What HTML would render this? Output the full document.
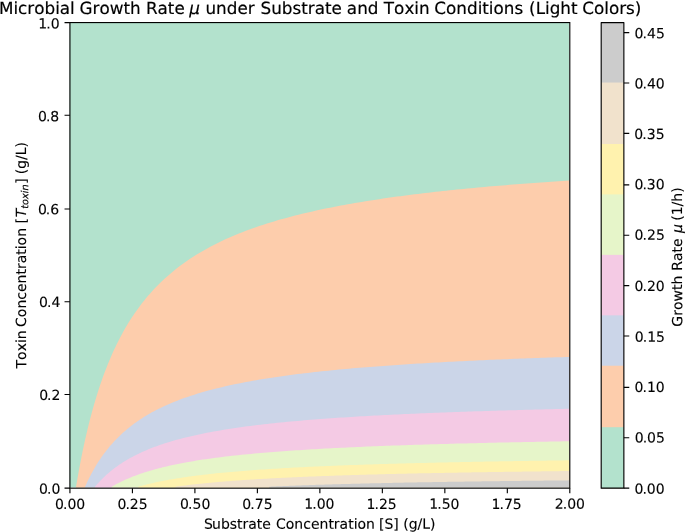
<!DOCTYPE html>
<html><head><meta charset="utf-8"><title>Microbial Growth Rate</title>
<style>html,body{margin:0;padding:0;background:#fff;overflow:hidden}svg{display:block}text{font-family:'DejaVu Sans','Liberation Sans',sans-serif;fill:#000;text-rendering:geometricPrecision}</style></head>
<body>
<svg width="685" height="532" viewBox="0 0 685 532">
<rect width="685" height="532" fill="#fff"/>
<defs><clipPath id="c"><rect x="69.43" y="22.06" width="499.87" height="465.60"/></clipPath></defs>
<g clip-path="url(#c)" shape-rendering="auto">
<rect x="69.43" y="22.06" width="499.87" height="465.60" fill="#b3e2cd"/>
<path d="M76.05 490.67L76.05 486.72L77.32 479.24L78.59 472.09L79.86 465.24L81.13 458.67L82.40 452.36L83.67 446.31L84.94 440.48L86.21 434.88L87.48 429.49L88.75 424.29L90.03 419.28L91.30 414.45L92.57 409.78L93.84 405.28L95.11 400.92L96.38 396.71L97.65 392.63L98.92 388.69L100.19 384.87L101.46 381.16L102.73 377.57L104.01 374.09L105.28 370.71L106.55 367.43L107.82 364.24L109.09 361.14L110.36 358.13L111.63 355.20L112.90 352.36L114.17 349.58L115.44 346.89L116.71 344.26L117.98 341.70L119.26 339.20L120.53 336.77L121.80 334.39L123.07 332.08L124.34 329.82L125.61 327.61L126.88 325.46L128.15 323.36L129.42 321.30L130.69 319.30L131.96 317.34L133.23 315.42L134.51 313.54L135.78 311.71L137.05 309.91L138.32 308.15L139.59 306.43L140.86 304.75L142.13 303.10L143.40 301.48L144.67 299.90L145.94 298.35L147.21 296.83L148.49 295.34L149.76 293.88L151.03 292.45L154.54 288.62L158.05 285.00L161.57 281.55L165.08 278.26L168.59 275.14L172.11 272.15L175.62 269.30L179.13 266.58L182.65 263.97L186.16 261.47L189.67 259.07L193.19 256.78L196.70 254.57L200.21 252.45L203.72 250.41L207.24 248.44L210.75 246.55L214.26 244.72L217.78 242.96L221.29 241.26L224.80 239.62L228.32 238.04L231.83 236.51L235.34 235.02L238.86 233.59L242.37 232.20L245.88 230.85L249.40 229.54L252.91 228.28L256.42 227.05L259.94 225.85L263.45 224.69L266.96 223.57L270.48 222.47L273.99 221.41L277.50 220.37L281.02 219.36L284.53 218.38L288.04 217.43L291.56 216.50L295.07 215.59L298.58 214.70L302.09 213.84L305.61 213.00L309.12 212.18L312.63 211.38L316.15 210.60L319.66 209.83L323.17 209.09L326.69 208.36L330.20 207.64L333.71 206.95L337.23 206.27L340.74 205.60L344.25 204.95L347.77 204.31L351.28 203.68L354.79 203.07L358.31 202.47L361.82 201.89L365.33 201.31L368.85 200.75L372.36 200.20L375.87 199.66L379.39 199.13L382.90 198.61L386.41 198.10L389.93 197.60L393.44 197.10L396.95 196.62L400.46 196.15L403.98 195.68L407.49 195.23L411.00 194.78L414.52 194.34L418.03 193.91L421.54 193.48L425.06 193.07L428.57 192.66L432.08 192.25L435.60 191.86L439.11 191.47L442.62 191.08L446.14 190.71L449.65 190.33L453.16 189.97L456.68 189.61L460.19 189.26L463.70 188.91L467.22 188.57L470.73 188.23L474.24 187.90L477.76 187.57L481.27 187.25L484.78 186.93L488.29 186.62L491.81 186.31L495.32 186.01L498.83 185.71L502.35 185.42L505.86 185.13L509.37 184.84L512.89 184.56L516.40 184.28L519.91 184.01L523.43 183.74L526.94 183.47L530.45 183.21L533.97 182.95L537.48 182.70L540.99 182.45L544.51 182.20L548.02 181.95L551.53 181.71L555.05 181.47L558.56 181.23L562.07 181.00L565.59 180.77L569.10 180.55L572.30 180.55L572.30 490.67Z" fill="#fdcdac"/>
<path d="M85.02 490.67L85.02 486.72L86.29 483.92L87.56 481.23L88.83 478.64L90.10 476.14L91.37 473.73L92.64 471.40L93.91 469.15L95.18 466.98L96.45 464.87L97.72 462.84L98.99 460.87L100.27 458.96L101.54 457.12L102.81 455.32L104.08 453.58L105.35 451.90L106.62 450.26L107.89 448.67L109.16 447.12L110.43 445.62L111.70 444.16L112.97 442.74L114.24 441.35L115.52 440.00L116.79 438.69L118.06 437.41L119.33 436.17L120.60 434.95L121.87 433.77L123.14 432.61L124.41 431.48L125.68 430.38L126.95 429.31L128.22 428.26L129.50 427.23L130.77 426.23L132.04 425.25L133.31 424.29L134.58 423.36L135.85 422.44L137.12 421.54L138.39 420.66L139.66 419.81L140.93 418.96L142.20 418.14L143.47 417.33L144.75 416.54L146.02 415.77L147.29 415.01L148.56 414.27L149.83 413.54L151.10 412.82L152.37 412.12L153.64 411.43L154.91 410.75L156.18 410.09L157.45 409.44L158.72 408.80L160.00 408.17L163.43 406.53L166.87 404.96L170.31 403.47L173.75 402.04L177.18 400.67L180.62 399.37L184.06 398.11L187.50 396.91L190.94 395.76L194.37 394.65L197.81 393.58L201.25 392.56L204.69 391.57L208.13 390.62L211.56 389.70L215.00 388.81L218.44 387.96L221.88 387.13L225.31 386.33L228.75 385.56L232.19 384.81L235.63 384.09L239.07 383.39L242.50 382.71L245.94 382.05L249.38 381.41L252.82 380.79L256.26 380.19L259.69 379.60L263.13 379.04L266.57 378.48L270.01 377.95L273.44 377.42L276.88 376.91L280.32 376.42L283.76 375.94L287.20 375.47L290.63 375.01L294.07 374.56L297.51 374.12L300.95 373.70L304.38 373.28L307.82 372.88L311.26 372.48L314.70 372.10L318.14 371.72L321.57 371.35L325.01 370.99L328.45 370.64L331.89 370.29L335.33 369.95L338.76 369.62L342.20 369.30L345.64 368.98L349.08 368.68L352.51 368.37L355.95 368.07L359.39 367.78L362.83 367.50L366.27 367.22L369.70 366.94L373.14 366.68L376.58 366.41L380.02 366.15L383.46 365.90L386.89 365.65L390.33 365.41L393.77 365.17L397.21 364.93L400.64 364.70L404.08 364.47L407.52 364.25L410.96 364.03L414.40 363.82L417.83 363.60L421.27 363.40L424.71 363.19L428.15 362.99L431.59 362.79L435.02 362.60L438.46 362.41L441.90 362.22L445.34 362.03L448.77 361.85L452.21 361.67L455.65 361.50L459.09 361.32L462.53 361.15L465.96 360.98L469.40 360.82L472.84 360.65L476.28 360.49L479.71 360.33L483.15 360.18L486.59 360.02L490.03 359.87L493.47 359.72L496.90 359.58L500.34 359.43L503.78 359.29L507.22 359.15L510.66 359.01L514.09 358.87L517.53 358.74L520.97 358.60L524.41 358.47L527.84 358.34L531.28 358.21L534.72 358.09L538.16 357.96L541.60 357.84L545.03 357.72L548.47 357.60L551.91 357.48L555.35 357.36L558.79 357.25L562.22 357.13L565.66 357.02L569.10 356.91L572.30 356.91L572.30 490.67Z" fill="#cbd5e8"/>
<path d="M94.98 490.67L94.98 486.72L96.25 485.22L97.52 483.78L98.79 482.38L100.06 481.03L101.34 479.72L102.61 478.45L103.88 477.22L105.15 476.02L106.42 474.86L107.69 473.73L108.96 472.63L110.23 471.57L111.50 470.53L112.77 469.52L114.04 468.54L115.31 467.59L116.59 466.66L117.86 465.75L119.13 464.87L120.40 464.01L121.67 463.17L122.94 462.35L124.21 461.55L125.48 460.77L126.75 460.01L128.02 459.26L129.29 458.53L130.56 457.82L131.84 457.13L133.11 456.45L134.38 455.79L135.65 455.14L136.92 454.50L138.19 453.88L139.46 453.27L140.73 452.68L142.00 452.10L143.27 451.52L144.54 450.96L145.81 450.42L147.09 449.88L148.36 449.35L149.63 448.83L150.90 448.33L152.17 447.83L153.44 447.34L154.71 446.86L155.98 446.39L157.25 445.93L158.52 445.48L159.79 445.04L161.07 444.60L162.34 444.17L163.61 443.75L164.88 443.34L166.15 442.93L167.42 442.53L168.69 442.14L169.96 441.75L173.32 440.76L176.67 439.82L180.02 438.91L183.38 438.04L186.73 437.20L190.09 436.40L193.44 435.63L196.79 434.89L200.15 434.17L203.50 433.48L206.86 432.82L210.21 432.18L213.56 431.56L216.92 430.96L220.27 430.38L223.63 429.83L226.98 429.29L230.33 428.76L233.69 428.25L237.04 427.76L240.40 427.29L243.75 426.82L247.11 426.37L250.46 425.94L253.81 425.52L257.17 425.10L260.52 424.70L263.88 424.32L267.23 423.94L270.58 423.57L273.94 423.21L277.29 422.86L280.65 422.52L284.00 422.19L287.35 421.86L290.71 421.55L294.06 421.24L297.42 420.94L300.77 420.65L304.13 420.36L307.48 420.08L310.83 419.81L314.19 419.54L317.54 419.28L320.90 419.03L324.25 418.78L327.60 418.53L330.96 418.29L334.31 418.06L337.67 417.83L341.02 417.61L344.37 417.39L347.73 417.17L351.08 416.96L354.44 416.76L357.79 416.55L361.14 416.35L364.50 416.16L367.85 415.97L371.21 415.78L374.56 415.60L377.92 415.42L381.27 415.24L384.62 415.07L387.98 414.90L391.33 414.73L394.69 414.57L398.04 414.40L401.39 414.25L404.75 414.09L408.10 413.94L411.46 413.79L414.81 413.64L418.16 413.49L421.52 413.35L424.87 413.21L428.23 413.07L431.58 412.93L434.93 412.80L438.29 412.67L441.64 412.54L445.00 412.41L448.35 412.29L451.71 412.16L455.06 412.04L458.41 411.92L461.77 411.80L465.12 411.69L468.48 411.57L471.83 411.46L475.18 411.35L478.54 411.24L481.89 411.13L485.25 411.02L488.60 410.92L491.95 410.81L495.31 410.71L498.66 410.61L502.02 410.51L505.37 410.41L508.73 410.32L512.08 410.22L515.43 410.13L518.79 410.04L522.14 409.95L525.50 409.85L528.85 409.77L532.20 409.68L535.56 409.59L538.91 409.51L542.27 409.42L545.62 409.34L548.97 409.26L552.33 409.17L555.68 409.09L559.04 409.01L562.39 408.94L565.74 408.86L569.10 408.78L572.30 408.78L572.30 490.67Z" fill="#f4cae4"/>
<path d="M111.81 490.67L111.81 486.72L113.08 485.97L114.35 485.25L115.62 484.55L116.89 483.87L118.17 483.20L119.44 482.56L120.71 481.92L121.98 481.31L123.25 480.70L124.52 480.12L125.79 479.54L127.06 478.98L128.33 478.44L129.60 477.90L130.87 477.38L132.15 476.87L133.42 476.37L134.69 475.88L135.96 475.41L137.23 474.94L138.50 474.48L139.77 474.04L141.04 473.60L142.31 473.17L143.58 472.75L144.85 472.34L146.12 471.93L147.40 471.54L148.67 471.15L149.94 470.77L151.21 470.40L152.48 470.03L153.75 469.67L155.02 469.32L156.29 468.98L157.56 468.64L158.83 468.30L160.10 467.98L161.37 467.66L162.65 467.34L163.92 467.03L165.19 466.73L166.46 466.43L167.73 466.13L169.00 465.84L170.27 465.56L171.54 465.28L172.81 465.00L174.08 464.73L175.35 464.47L176.62 464.21L177.90 463.95L179.17 463.69L180.44 463.45L181.71 463.20L182.98 462.96L184.25 462.72L185.52 462.49L186.79 462.26L190.00 461.69L193.22 461.14L196.43 460.61L199.64 460.10L202.86 459.61L206.07 459.14L209.28 458.68L212.49 458.24L215.71 457.81L218.92 457.40L222.13 457.00L225.34 456.61L228.56 456.23L231.77 455.86L234.98 455.51L238.19 455.17L241.41 454.83L244.62 454.51L247.83 454.19L251.05 453.88L254.26 453.59L257.47 453.30L260.68 453.01L263.90 452.74L267.11 452.47L270.32 452.21L273.53 451.95L276.75 451.71L279.96 451.46L283.17 451.23L286.38 451.00L289.60 450.77L292.81 450.55L296.02 450.34L299.23 450.13L302.45 449.92L305.66 449.72L308.87 449.53L312.09 449.33L315.30 449.15L318.51 448.96L321.72 448.78L324.94 448.61L328.15 448.44L331.36 448.27L334.57 448.10L337.79 447.94L341.00 447.78L344.21 447.63L347.42 447.47L350.64 447.32L353.85 447.18L357.06 447.03L360.28 446.89L363.49 446.75L366.70 446.62L369.91 446.49L373.13 446.35L376.34 446.23L379.55 446.10L382.76 445.98L385.98 445.85L389.19 445.73L392.40 445.62L395.61 445.50L398.83 445.39L402.04 445.27L405.25 445.16L408.47 445.06L411.68 444.95L414.89 444.85L418.10 444.74L421.32 444.64L424.53 444.54L427.74 444.44L430.95 444.35L434.17 444.25L437.38 444.16L440.59 444.07L443.80 443.97L447.02 443.89L450.23 443.80L453.44 443.71L456.66 443.62L459.87 443.54L463.08 443.46L466.29 443.38L469.51 443.29L472.72 443.21L475.93 443.14L479.14 443.06L482.36 442.98L485.57 442.91L488.78 442.83L491.99 442.76L495.21 442.69L498.42 442.62L501.63 442.55L504.85 442.48L508.06 442.41L511.27 442.34L514.48 442.27L517.70 442.21L520.91 442.14L524.12 442.08L527.33 442.02L530.55 441.95L533.76 441.89L536.97 441.83L540.18 441.77L543.40 441.71L546.61 441.65L549.82 441.59L553.04 441.54L556.25 441.48L559.46 441.42L562.67 441.37L565.89 441.31L569.10 441.26L572.30 441.26L572.30 490.67Z" fill="#e6f5c9"/>
<path d="M138.26 490.67L138.26 486.72L139.53 486.36L140.80 486.01L142.07 485.67L143.34 485.33L144.61 485.01L145.88 484.69L147.16 484.37L148.43 484.06L149.70 483.76L150.97 483.46L152.24 483.17L153.51 482.89L154.78 482.61L156.05 482.33L157.32 482.06L158.59 481.80L159.86 481.54L161.13 481.28L162.41 481.03L163.68 480.78L164.95 480.54L166.22 480.30L167.49 480.07L168.76 479.84L170.03 479.61L171.30 479.39L172.57 479.17L173.84 478.95L175.11 478.74L176.39 478.54L177.66 478.33L178.93 478.13L180.20 477.93L181.47 477.73L182.74 477.54L184.01 477.35L185.28 477.17L186.55 476.98L187.82 476.80L189.09 476.62L190.36 476.45L191.64 476.28L192.91 476.11L194.18 475.94L195.45 475.77L196.72 475.61L197.99 475.45L199.26 475.29L200.53 475.13L201.80 474.98L203.07 474.83L204.34 474.68L205.61 474.53L206.89 474.38L208.16 474.24L209.43 474.10L210.70 473.96L211.97 473.82L213.24 473.68L216.23 473.37L219.22 473.07L222.21 472.77L225.20 472.48L228.19 472.20L231.18 471.93L234.17 471.67L237.16 471.41L240.15 471.16L243.14 470.92L246.13 470.68L249.12 470.45L252.12 470.23L255.11 470.01L258.10 469.80L261.09 469.59L264.08 469.39L267.07 469.19L270.06 469.00L273.05 468.81L276.04 468.63L279.03 468.45L282.02 468.27L285.01 468.10L288.00 467.93L290.99 467.77L293.98 467.60L296.97 467.45L299.96 467.29L302.95 467.14L305.94 467.00L308.93 466.85L311.92 466.71L314.91 466.57L317.90 466.43L320.89 466.30L323.89 466.17L326.88 466.04L329.87 465.92L332.86 465.79L335.85 465.67L338.84 465.55L341.83 465.44L344.82 465.32L347.81 465.21L350.80 465.10L353.79 464.99L356.78 464.89L359.77 464.78L362.76 464.68L365.75 464.58L368.74 464.48L371.73 464.38L374.72 464.29L377.71 464.19L380.70 464.10L383.69 464.01L386.68 463.92L389.67 463.83L392.66 463.75L395.65 463.66L398.65 463.58L401.64 463.49L404.63 463.41L407.62 463.33L410.61 463.25L413.60 463.17L416.59 463.10L419.58 463.02L422.57 462.95L425.56 462.88L428.55 462.80L431.54 462.73L434.53 462.66L437.52 462.59L440.51 462.52L443.50 462.46L446.49 462.39L449.48 462.33L452.47 462.26L455.46 462.20L458.45 462.14L461.44 462.07L464.43 462.01L467.42 461.95L470.42 461.89L473.41 461.83L476.40 461.78L479.39 461.72L482.38 461.66L485.37 461.61L488.36 461.55L491.35 461.50L494.34 461.45L497.33 461.39L500.32 461.34L503.31 461.29L506.30 461.24L509.29 461.19L512.28 461.14L515.27 461.09L518.26 461.04L521.25 460.99L524.24 460.95L527.23 460.90L530.22 460.85L533.21 460.81L536.20 460.76L539.19 460.72L542.19 460.67L545.18 460.63L548.17 460.59L551.16 460.54L554.15 460.50L557.14 460.46L560.13 460.42L563.12 460.38L566.11 460.34L569.10 460.30L572.30 460.30L572.30 490.67Z" fill="#fff2ae"/>
<path d="M175.45 490.67L175.45 486.72L176.72 486.54L177.99 486.36L179.26 486.19L180.54 486.02L181.81 485.86L183.08 485.70L184.35 485.53L185.62 485.38L186.89 485.22L188.16 485.07L189.43 484.92L190.70 484.77L191.97 484.62L193.24 484.47L194.51 484.33L195.79 484.19L197.06 484.05L198.33 483.92L199.60 483.78L200.87 483.65L202.14 483.52L203.41 483.39L204.68 483.26L205.95 483.14L207.22 483.01L208.49 482.89L209.77 482.77L211.04 482.65L212.31 482.53L213.58 482.42L214.85 482.30L216.12 482.19L217.39 482.08L218.66 481.97L219.93 481.86L221.20 481.75L222.47 481.65L223.74 481.54L225.02 481.44L226.29 481.34L227.56 481.23L228.83 481.14L230.10 481.04L231.37 480.94L232.64 480.84L233.91 480.75L235.18 480.65L236.45 480.56L237.72 480.47L238.99 480.38L240.27 480.29L241.54 480.20L242.81 480.11L244.08 480.03L245.35 479.94L246.62 479.86L247.89 479.77L249.16 479.69L250.43 479.61L253.11 479.44L255.79 479.27L258.47 479.11L261.14 478.95L263.82 478.80L266.50 478.65L269.18 478.50L271.86 478.35L274.53 478.21L277.21 478.07L279.89 477.94L282.57 477.80L285.24 477.67L287.92 477.54L290.60 477.42L293.28 477.29L295.96 477.17L298.63 477.05L301.31 476.94L303.99 476.82L306.67 476.71L309.35 476.60L312.02 476.49L314.70 476.39L317.38 476.28L320.06 476.18L322.73 476.08L325.41 475.98L328.09 475.89L330.77 475.79L333.45 475.70L336.12 475.61L338.80 475.52L341.48 475.43L344.16 475.34L346.84 475.25L349.51 475.17L352.19 475.08L354.87 475.00L357.55 474.92L360.23 474.84L362.90 474.76L365.58 474.69L368.26 474.61L370.94 474.54L373.61 474.46L376.29 474.39L378.97 474.32L381.65 474.25L384.33 474.18L387.00 474.11L389.68 474.04L392.36 473.98L395.04 473.91L397.72 473.85L400.39 473.78L403.07 473.72L405.75 473.66L408.43 473.60L411.10 473.54L413.78 473.48L416.46 473.42L419.14 473.36L421.82 473.31L424.49 473.25L427.17 473.19L429.85 473.14L432.53 473.09L435.21 473.03L437.88 472.98L440.56 472.93L443.24 472.88L445.92 472.83L448.59 472.78L451.27 472.73L453.95 472.68L456.63 472.63L459.31 472.58L461.98 472.54L464.66 472.49L467.34 472.44L470.02 472.40L472.70 472.35L475.37 472.31L478.05 472.26L480.73 472.22L483.41 472.18L486.08 472.14L488.76 472.09L491.44 472.05L494.12 472.01L496.80 471.97L499.47 471.93L502.15 471.89L504.83 471.85L507.51 471.81L510.19 471.78L512.86 471.74L515.54 471.70L518.22 471.66L520.90 471.63L523.58 471.59L526.25 471.56L528.93 471.52L531.61 471.48L534.29 471.45L536.96 471.42L539.64 471.38L542.32 471.35L545.00 471.31L547.68 471.28L550.35 471.25L553.03 471.22L555.71 471.18L558.39 471.15L561.07 471.12L563.74 471.09L566.42 471.06L569.10 471.03L572.30 471.03L572.30 490.67Z" fill="#f1e2cc"/>
<path d="M269.18 490.67L269.18 486.72L270.45 486.66L271.72 486.60L272.99 486.54L274.26 486.48L275.53 486.43L276.80 486.37L278.07 486.32L279.34 486.26L280.62 486.21L281.89 486.15L283.16 486.10L284.43 486.05L285.70 485.99L286.97 485.94L288.24 485.89L289.51 485.84L290.78 485.79L292.05 485.74L293.32 485.69L294.59 485.64L295.87 485.59L297.14 485.54L298.41 485.50L299.68 485.45L300.95 485.40L302.22 485.36L303.49 485.31L304.76 485.26L306.03 485.22L307.30 485.17L308.57 485.13L309.84 485.09L311.12 485.04L312.39 485.00L313.66 484.96L314.93 484.91L316.20 484.87L317.47 484.83L318.74 484.79L320.01 484.75L321.28 484.71L322.55 484.67L323.82 484.63L325.10 484.59L326.37 484.55L327.64 484.51L328.91 484.47L330.18 484.43L331.45 484.39L332.72 484.36L333.99 484.32L335.26 484.28L336.53 484.24L337.80 484.21L339.07 484.17L340.35 484.14L341.62 484.10L342.89 484.06L344.16 484.03L346.05 483.98L347.94 483.93L349.83 483.88L351.72 483.83L353.61 483.78L355.50 483.73L357.39 483.68L359.28 483.63L361.17 483.58L363.06 483.54L364.95 483.49L366.84 483.44L368.73 483.40L370.62 483.35L372.51 483.31L374.40 483.27L376.29 483.22L378.18 483.18L380.07 483.14L381.96 483.10L383.85 483.05L385.74 483.01L387.63 482.97L389.52 482.93L391.41 482.89L393.30 482.85L395.19 482.81L397.09 482.77L398.98 482.74L400.87 482.70L402.76 482.66L404.65 482.62L406.54 482.59L408.43 482.55L410.32 482.51L412.21 482.48L414.10 482.44L415.99 482.41L417.88 482.37L419.77 482.34L421.66 482.30L423.55 482.27L425.44 482.24L427.33 482.20L429.22 482.17L431.11 482.14L433.00 482.11L434.89 482.07L436.78 482.04L438.67 482.01L440.56 481.98L442.45 481.95L444.34 481.92L446.23 481.89L448.12 481.86L450.01 481.83L451.90 481.80L453.79 481.77L455.68 481.74L457.57 481.71L459.46 481.68L461.35 481.66L463.24 481.63L465.13 481.60L467.02 481.57L468.92 481.54L470.81 481.52L472.70 481.49L474.59 481.46L476.48 481.44L478.37 481.41L480.26 481.39L482.15 481.36L484.04 481.33L485.93 481.31L487.82 481.28L489.71 481.26L491.60 481.23L493.49 481.21L495.38 481.19L497.27 481.16L499.16 481.14L501.05 481.11L502.94 481.09L504.83 481.07L506.72 481.04L508.61 481.02L510.50 481.00L512.39 480.97L514.28 480.95L516.17 480.93L518.06 480.91L519.95 480.89L521.84 480.86L523.73 480.84L525.62 480.82L527.51 480.80L529.40 480.78L531.29 480.76L533.18 480.74L535.07 480.72L536.96 480.69L538.85 480.67L540.74 480.65L542.64 480.63L544.53 480.61L546.42 480.59L548.31 480.57L550.20 480.55L552.09 480.53L553.98 480.52L555.87 480.50L557.76 480.48L559.65 480.46L561.54 480.44L563.43 480.42L565.32 480.40L567.21 480.38L569.10 480.37L572.30 480.37L572.30 490.67Z" fill="#cccccc"/>
</g>
<g>
<rect x="601.19" y="23.07" width="22.68" height="465.11" fill="#cccccc"/>
<rect x="601.19" y="82.53" width="22.68" height="405.65" fill="#f1e2cc"/>
<rect x="601.19" y="144.01" width="22.68" height="344.17" fill="#fff2ae"/>
<rect x="601.19" y="194.40" width="22.68" height="293.78" fill="#e6f5c9"/>
<rect x="601.19" y="254.86" width="22.68" height="233.31" fill="#f4cae4"/>
<rect x="601.19" y="315.33" width="22.68" height="172.84" fill="#cbd5e8"/>
<rect x="601.19" y="365.72" width="22.68" height="122.45" fill="#fdcdac"/>
<rect x="601.19" y="427.20" width="22.68" height="60.98" fill="#b3e2cd"/>
</g>
<path d="M69.93 488.18v5.10M132.42 488.18v5.10M194.90 488.18v5.10M257.38 488.18v5.10M319.87 488.18v5.10M382.35 488.18v5.10M444.84 488.18v5.10M507.32 488.18v5.10M569.80 488.18v5.10M69.93 488.17h-5.40M69.93 394.44h-5.40M69.93 301.73h-5.40M69.93 209.01h-5.40M69.93 115.28h-5.40M69.93 22.57h-5.40M623.87 488.17h5.40M623.87 437.78h5.40M623.87 387.39h5.40M623.87 335.99h5.40M623.87 285.60h5.40M623.87 235.21h5.40M623.87 184.82h5.40M623.87 133.42h5.40M623.87 83.03h5.40M623.87 32.64h5.40" stroke="#000" stroke-width="1.120" fill="none"/>
<rect x="69.93" y="22.57" width="499.87" height="465.60" fill="none" stroke="#000" stroke-width="1.120"/>
<rect x="601.19" y="22.57" width="22.68" height="465.60" fill="none" stroke="#000" stroke-width="1.120" stroke-linejoin="round"/>
<g stroke="#000" stroke-width="0.12">
<text transform="rotate(0.04 69.24 508.92)" x="69.24" y="508.92" font-size="13.997" text-anchor="middle" dx="0.9 -0.9">0.00</text>
<text transform="rotate(0.04 131.65 508.90)" x="131.65" y="508.90" font-size="13.997" text-anchor="middle" dx="0.9 -0.9">0.25</text>
<text transform="rotate(0.04 194.27 508.89)" x="194.27" y="508.89" font-size="13.997" text-anchor="middle" dx="0.9 -0.9">0.50</text>
<text transform="rotate(0.04 256.56 508.93)" x="256.56" y="508.93" font-size="13.997" text-anchor="middle" dx="0.9 -0.9">0.75</text>
<text transform="rotate(0.04 318.45 508.80)" x="318.45" y="508.80" font-size="13.997" text-anchor="middle" dx="0.9 -0.9">1.00</text>
<text transform="rotate(0.04 380.69 508.94)" x="380.69" y="508.94" font-size="13.997" text-anchor="middle" dx="0.9 -0.9">1.25</text>
<text transform="rotate(0.04 443.48 508.88)" x="443.48" y="508.88" font-size="13.997" text-anchor="middle" dx="0.9 -0.9">1.50</text>
<text transform="rotate(0.04 505.67 509.05)" x="505.67" y="509.05" font-size="13.997" text-anchor="middle" dx="0.9 -0.9">1.75</text>
<text transform="rotate(0.04 568.98 508.87)" x="568.98" y="508.87" font-size="13.997" text-anchor="middle" dx="0.9 -0.9">2.00</text>
<text transform="rotate(0.04 320 528.75)" y="528.75" font-size="13.997"><tspan x="203.13" dx="0.9 -0.9">Substrate </tspan><tspan x="276.06">Concentration </tspan><tspan x="379.02">[S] </tspan><tspan x="403.24">(g/L)</tspan></text>
<text transform="rotate(0.04 59.37 493.89)" x="59.37" y="493.89" font-size="13.997" text-anchor="end" dx="1.0 -1.0">0.0</text>
<text transform="rotate(0.04 59.40 400.00)" x="59.40" y="400.00" font-size="13.997" text-anchor="end" dx="1.0 -1.0">0.2</text>
<text transform="rotate(0.04 59.29 306.92)" x="59.29" y="306.92" font-size="13.997" text-anchor="end" dx="1.0 -1.0">0.4</text>
<text transform="rotate(0.04 58.18 214.39)" x="58.18" y="214.39" font-size="13.997" text-anchor="end" dx="1.0 -1.0">0.6</text>
<text transform="rotate(0.04 58.26 121.26)" x="58.26" y="121.26" font-size="13.997" text-anchor="end" dx="1.0 -1.0">0.8</text>
<text transform="rotate(0.04 58.60 28.48)" x="58.60" y="28.48" font-size="13.997" text-anchor="end" dx="1.0 -1.0">1.0</text>
<text transform="rotate(0.04 633.52 493.67)" x="633.52" y="493.67" font-size="13.997" text-anchor="start" dx="0.9 -0.9">0.00</text>
<text transform="rotate(0.04 633.74 442.43)" x="633.74" y="442.43" font-size="13.997" text-anchor="start" dx="0.9 -0.9">0.05</text>
<text transform="rotate(0.04 633.63 392.01)" x="633.63" y="392.01" font-size="13.997" text-anchor="start" dx="0.9 -0.9">0.10</text>
<text transform="rotate(0.04 633.88 341.64)" x="633.88" y="341.64" font-size="13.997" text-anchor="start" dx="0.9 -0.9">0.15</text>
<text transform="rotate(0.04 633.54 291.09)" x="633.54" y="291.09" font-size="13.997" text-anchor="start" dx="0.9 -0.9">0.20</text>
<text transform="rotate(0.04 633.66 239.78)" x="633.66" y="239.78" font-size="13.997" text-anchor="start" dx="0.9 -0.9">0.25</text>
<text transform="rotate(0.04 633.50 189.31)" x="633.50" y="189.31" font-size="13.997" text-anchor="start" dx="0.9 -0.9">0.30</text>
<text transform="rotate(0.04 633.47 139.01)" x="633.47" y="139.01" font-size="13.997" text-anchor="start" dx="0.9 -0.9">0.35</text>
<text transform="rotate(0.04 633.63 88.59)" x="633.63" y="88.59" font-size="13.997" text-anchor="start" dx="0.9 -0.9">0.40</text>
<text transform="rotate(0.04 633.66 38.37)" x="633.66" y="38.37" font-size="13.997" text-anchor="start" dx="0.9 -0.9">0.45</text>
<g transform="rotate(-0.04 22 256) translate(26.61 368.52) rotate(-90)"><text style="font-kerning:none"><tspan x="0.08" y="-0.57" font-size="13.997">Toxin </tspan><tspan x="41.63" y="-0.57" font-size="13.997">Concentration </tspan><tspan x="145.14" y="-0.57" font-size="13.997">[</tspan><tspan x="151.20" y="-0.57" font-size="13.997" font-style="oblique">T</tspan><tspan x="159.75" y="1.73" font-size="9.798" font-style="oblique">toxin</tspan><tspan x="184.70" y="-0.57" font-size="13.997">] </tspan><tspan x="194.28" y="-0.57" font-size="13.997">(g/L)</tspan></text></g>
<g transform="rotate(-0.04 678 256) translate(682.66 324.43) rotate(-90)"><text style="font-kerning:none"><tspan x="-2.25" y="-0.57" font-size="13.997">Growth </tspan><tspan x="53.69" y="-0.57" font-size="13.997">Rate </tspan><tspan x="91.46" y="-0.57" font-size="13.997" font-style="oblique">μ </tspan><tspan x="103.70" y="-0.57" font-size="13.997">(1/h)</tspan></text></g>
<g style="font-kerning:none" stroke-width="0.18" font-size="16.797"><text transform="rotate(0.04 -1.04 13.92)" x="-1.04" y="13.92">Microbial </text><text transform="rotate(0.04 79.60 13.92)" x="79.60" y="13.92">Growth </text><text transform="rotate(0.04 145.88 13.92)" x="145.88" y="13.92">Rate </text><text transform="rotate(0.04 189.24 13.92)" x="189.24" y="13.92" font-style="oblique">μ </text><text transform="rotate(0.04 205.48 13.92)" x="205.48" y="13.92">under </text><text transform="rotate(0.04 260.50 13.92)" x="260.50" y="13.92">Substrate </text><text transform="rotate(0.04 346.86 13.92)" x="346.86" y="13.92">and </text><text transform="rotate(0.04 383.86 13.92)" x="383.86" y="13.92">Toxin </text><text transform="rotate(0.04 434.36 13.92)" x="434.36" y="13.92">Conditions </text><text transform="rotate(0.04 529.09 13.92)" x="529.09" y="13.92">(Light </text><text transform="rotate(0.04 582.25 13.92)" x="582.25" y="13.92">Colors)</text></g>
</g>
</svg>
</body></html>
